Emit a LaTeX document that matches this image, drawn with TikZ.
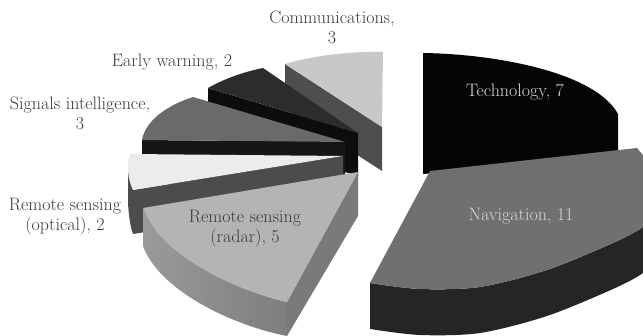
\documentclass[tikz,border=0pt]{standalone}
\usetikzlibrary{calc}
\definecolor{commtop}{HTML}{C8C8C8}
\definecolor{commside}{HTML}{4E4E4E}
\definecolor{techtop}{HTML}{050505}
\definecolor{earlytop}{HTML}{2C2C2C}
\definecolor{earlyside}{HTML}{0D0D0D}
\definecolor{sigtop}{HTML}{6A6A6A}
\definecolor{sigside}{HTML}{161616}
\definecolor{opttop}{HTML}{ECECEC}
\definecolor{optside}{HTML}{4C4C4C}
\definecolor{radtop}{HTML}{B4B4B4}
\definecolor{radsideL}{HTML}{9A9A9A}
\definecolor{radsideR}{HTML}{7E7E7E}
\definecolor{radcut}{HTML}{7A7A7A}
\definecolor{navtop}{HTML}{707070}
\definecolor{navside}{HTML}{252525}
\definecolor{darktext}{HTML}{3A3A3A}
\definecolor{lighttext}{HTML}{D8D8D8}
\tikzset{
  lbl/.style={align=center, text=darktext, font=\fontsize{18}{20}\selectfont, inner sep=0pt},
  lbllight/.style={lbl, text=lighttext},
}
\begin{document}
\begin{tikzpicture}[x=1pt, y=-1pt]
\useasboundingbox (0,0) rectangle (643,336);
\clip (0,0) rectangle (643,336);
\fill[white] (0,0) rectangle (643,336);

% Communications
\fill[commside] (285,64) -- (382,127) -- (382,171) -- (285,108) -- cycle;
\fill[commtop] (382,127) -- (383,52) .. controls (355,51) and (315,55) .. (285,64) -- cycle;

% Technology (top face and cut face, both black)
\fill[techtop] (423,174) -- (423,53) .. controls (495,54) and (595,72) .. (618,114) -- (618,158) -- cycle;

% Early warning
\fill[earlyside] (208,88) -- (358,133) -- (358,176) -- (208,131) -- cycle;
\fill[earlytop] (358,133) -- (263,68) .. controls (243,72) and (224,79) .. (208,88) -- cycle;

% Signals intelligence
\fill[sigside] (142,140) -- (345,142) -- (345,186) -- (142,184) -- cycle;
\fill[sigtop] (345,142) -- (193,97) .. controls (165,106) and (145,122) .. (142,140) -- cycle;

% Remote sensing (optical)
\fill[optside] (128,160) .. controls (129,172) and (130,182) .. (133,190) -- (343,156) -- (343,200) -- (133,234) .. controls (130,226) and (129,216) .. (128,204) -- cycle;
\fill[opttop] (343,156) -- (130,154) .. controls (126,165) and (128,180) .. (133,190) -- cycle;

% Remote sensing (radar)
\fill[radcut] (358,172) -- (287,302) -- (287,336) -- (358,216) -- cycle;
\shade[left color=radsideL, right color=radsideR] (287,302) .. controls (235,290) and (160,255) .. (143,208) -- (143,246) .. controls (160,292) and (235,326) .. (287,336) -- cycle;
\fill[radtop] (358,172) -- (287,302) .. controls (235,290) and (160,255) .. (143,208) -- cycle;

% Navigation
\fill[navside] plot[smooth] coordinates {(370,283) (420,289) (480,287) (547,270) (613,243) (643,227) (652,214) (659,192)}
  -- plot[smooth] coordinates {(659,238) (652,260) (643,273) (613,289) (547,316) (480,333) (420,335) (370,329)} -- cycle;
\fill[navtop] (430,171) -- (637,148) -- plot[smooth] coordinates {(637,148) (652,168) (659,192) (652,214) (643,227) (613,243) (547,270) (480,287) (420,289) (370,283)} -- cycle;

% Labels
\node[lbl] (lcomm) at (332,27) {Communications,\\3};
\node[lbl] (learly) at (172,62) {Early warning, 2};
\node[lbl] (lsig) at (80,113) {Signals intelligence,\\3};
\node[lbl] (lopt) at (65,217) {Remote sensing\\(optical), 2};
\node[lbl] (lrad) at (245,229) {Remote sensing\\(radar), 5};
\node[lbllight] (ltech) at (515,92) {Technology, 7};
\node[lbllight] (lnav) at (521,216) {Navigation, 11};
\end{tikzpicture}
\end{document}
